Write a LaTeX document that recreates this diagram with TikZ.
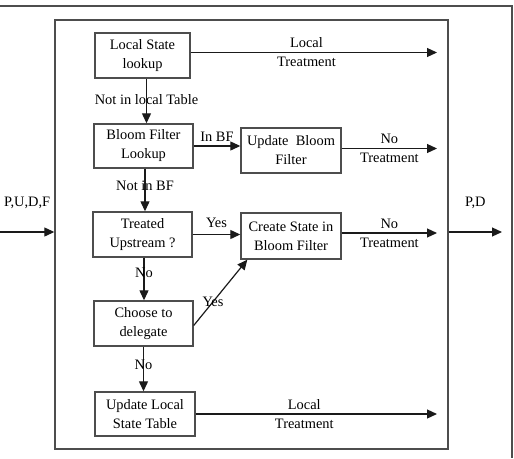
\documentclass[tikz,border=0pt]{standalone}
\usepackage{fontspec}
\setmainfont{Liberation Serif}
\usetikzlibrary{arrows.meta,positioning}
\definecolor{edgec}{HTML}{1A1A1A}
\definecolor{framec}{HTML}{4D4D4D}
\newcommand{\fs}{\fontsize{14.4}{19}\selectfont}
\tikzset{
  stepbox/.style={draw=framec, line width=1.4pt, minimum width=99pt, minimum height=45pt, inner sep=1pt, align=center, font=\fs},
  flow/.style={-{Triangle[length=10pt, width=9pt]}, line width=1.2pt, draw=edgec},
  lbl/.style={font=\fs, inner sep=2pt, text=black},
}

\begin{document}
\begin{tikzpicture}[x=1pt, y=-1pt]
  \useasboundingbox (0,0) rectangle (514,458);
  % outer frame, only its top and right edges show
  \draw[line width=1.2pt, draw=framec] (0,6) -- (512,6) -- (512,458);
  \node[draw=framec, line width=1.4pt, minimum width=393pt, minimum height=429pt] (proc) at (251.5,234.5) {};
  % steps
  \node[stepbox, minimum width=95pt] (lsl) at (142.5,55.5) {Local State\\lookup};
  \node[stepbox, minimum height=44pt] (bfl) at (143.5,146) {Bloom Filter\\Lookup};
  \node[stepbox, minimum width=100pt] (ubf) at (291,150.5) {Update\ \ Bloom\\Filter};
  \node[stepbox] (tu) at (142.5,234.5) {Treated\\Upstream ?};
  \node[stepbox, minimum width=100pt, minimum height=46pt] (csbf) at (291,236) {Create State in\\Bloom Filter};
  \node[stepbox] (ctd) at (143.5,323.5) {Choose to\\delegate};
  \node[stepbox, minimum width=100pt, minimum height=44pt] (ulst) at (145,414) {Update Local\\State Table};
  \coordinate (outx) at (437,0);
  \coordinate (inL) at (0,232);
  \coordinate (outR) at (502,232);
  % flows
  \draw[flow] ([yshift=3pt]lsl.east) -- ([yshift=3pt]lsl.east -| outx)
    node[lbl, above=2pt, pos=0.47] (lt1) {Local} node[lbl, below=2pt, pos=0.47] (lt2) {Treatment};
  \draw[flow] ([xshift=4pt]lsl.south) -- ([xshift=4pt]lsl.south |- bfl.north)
    node[lbl, pos=0.46] (nlt) {Not in local Table};
  \draw[flow] (bfl.east) -- (bfl.east -| ubf.west) node[lbl, above=2pt, midway] (ibf) {In BF};
  \draw[flow] ([yshift=2pt]ubf.east) -- ([yshift=2pt]ubf.east -| outx)
    node[lbl, above=2pt, midway] (nt1) {No} node[lbl, below=2pt, midway] (nt2) {Treatment};
  \draw[flow] ([xshift=1.5pt]bfl.south) -- ([xshift=1.5pt]bfl.south |- tu.north)
    node[lbl, pos=0.41] (nbf) {Not in BF};
  \draw[flow] (tu.east) -- (tu.east -| csbf.west) node[lbl, above=4pt, midway] (ys1) {Yes};
  \draw[flow] ([yshift=3pt]csbf.east) -- ([yshift=3pt]csbf.east -| outx)
    node[lbl, above=2pt, midway] (nt3) {No} node[lbl, below=2pt, midway] (nt4) {Treatment};
  \draw[flow] ([xshift=1.5pt]tu.south) -- ([xshift=1.5pt]tu.south |- ctd.north)
    node[lbl, pos=0.36] (no1) {No};
  \draw[flow] ([yshift=-2pt]ctd.east) -- ([xshift=7pt]csbf.south west)
    node[lbl, pos=0.36] (ys2) {Yes};
  \draw[flow] (ctd.south) -- (ctd.south |- ulst.north) node[lbl, pos=0.41] (no2) {No};
  \draw[flow] (ulst.east) -- (ulst.east -| outx)
    node[lbl, above=2pt, pos=0.45] (lt3) {Local} node[lbl, below=2pt, pos=0.45] (lt4) {Treatment};
  % in and out of the box
  \draw[flow] (inL) -- (inL -| proc.west) node[lbl, above=21pt, midway] (inlbl) {P,U,D,F};
  \draw[flow] (outR -| proc.east) -- (outR) node[lbl, above=21pt, midway] (outlbl) {P,D};
\end{tikzpicture}
\end{document}
